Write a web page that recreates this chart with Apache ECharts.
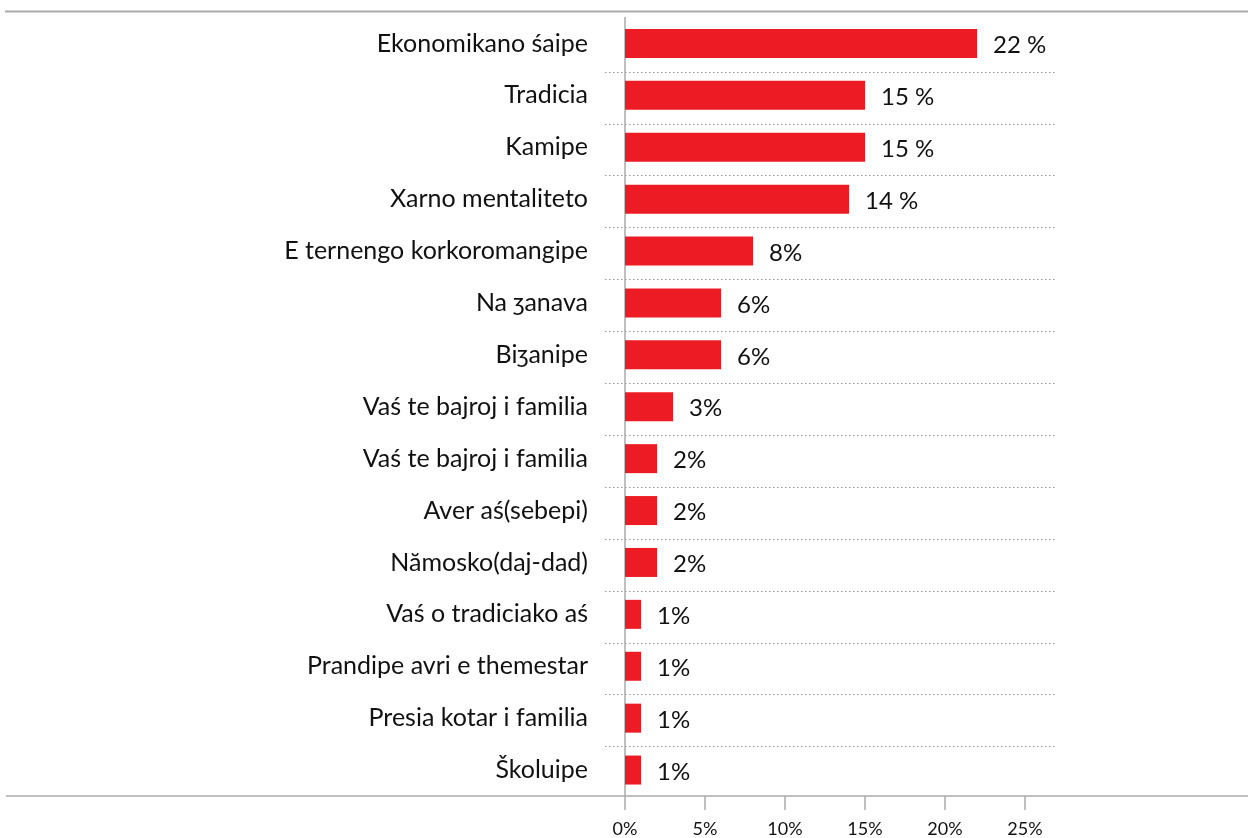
<!DOCTYPE html>
<html><head><meta charset="utf-8">
<script src="https://cdn.jsdelivr.net/npm/echarts@6/dist/echarts.min.js"></script>
<style>html,body{margin:0;padding:0;background:#fff}#c{width:1248px;height:838px}</style>
</head><body><div id="c"></div>
<script>
const categories = ["Ekonomikano śaipe","Tradicia","Kamipe","Xarno mentaliteto","E ternengo korkoromangipe","Na ʒanava","Biʒanipe","Vaś te bajroj i familia","Vaś te bajroj i familia","Aver aś(sebepi)","Nămosko(daj-dad)","Vaś o tradiciako aś","Prandipe avri e themestar","Presia kotar i familia","Školuipe"];
const values = [22,15,15,14,8,6,6,3,2,2,2,1,1,1,1];
const valueLabels = ["22 %","15 %","15 %","14 %","8%","6%","6%","3%","2%","2%","2%","1%","1%","1%","1%"];
const xTicks = [0,5,10,15,20,25];

const FONT = "Lato";
const chart = echarts.init(document.getElementById('c'));
const band = 51.9;
chart.setOption({
  animation:false,
  textStyle:{fontFamily:FONT},
  grid:[
    {left:625, top:17.5, width:400, height:band*15, containLabel:false},
    {left:605, top:20+band, width:452, height:band*13, containLabel:false}
  ],
  xAxis:[
    {gridIndex:0, type:'value', min:xTicks[0], max:xTicks[xTicks.length-1], interval:5,
     axisLine:{show:false}, splitLine:{show:false},
     axisTick:{show:true, length:14, lineStyle:{color:'#aaa', width:1.5}},
     axisLabel:{formatter:'{value}%', fontSize:18, color:'#111', margin:24, fontFamily:FONT}},
    {gridIndex:1, type:'value', show:false, min:0, max:1}
  ],
  yAxis:[
    {gridIndex:0, type:'category', inverse:true, data:categories,
     axisLine:{show:true, lineStyle:{color:'#aaa', width:1.5}},
     axisTick:{show:false}, splitLine:{show:false},
     axisLabel:{fontSize:25, color:'#111', margin:37, fontFamily:FONT, padding:[10,0,0,0]}},
    {gridIndex:1, type:'value', min:1, max:14, interval:1,
     axisLine:{show:false}, axisTick:{show:false}, axisLabel:{show:false},
     splitLine:{show:true, lineStyle:{color:'#999', type:[1.5,2.5], width:1}}}
  ],
  series:[{
    type:'bar', xAxisIndex:0, yAxisIndex:0, data:values, barWidth:29,
    itemStyle:{color:'#ED1C24'},
    label:{show:true, position:'right', distance:16, offset:[0,2], fontSize:24, color:'#111', fontFamily:FONT,
      formatter:p=>valueLabels[p.dataIndex]}
  }],
  graphic:[
    {type:'line', shape:{x1:5,y1:11.5,x2:1248,y2:11.5}, style:{stroke:'#aaa', lineWidth:2}},
    {type:'line', shape:{x1:6,y1:796,x2:1248,y2:796}, style:{stroke:'#aaa', lineWidth:1.5}}
  ]
});
</script></body></html>
